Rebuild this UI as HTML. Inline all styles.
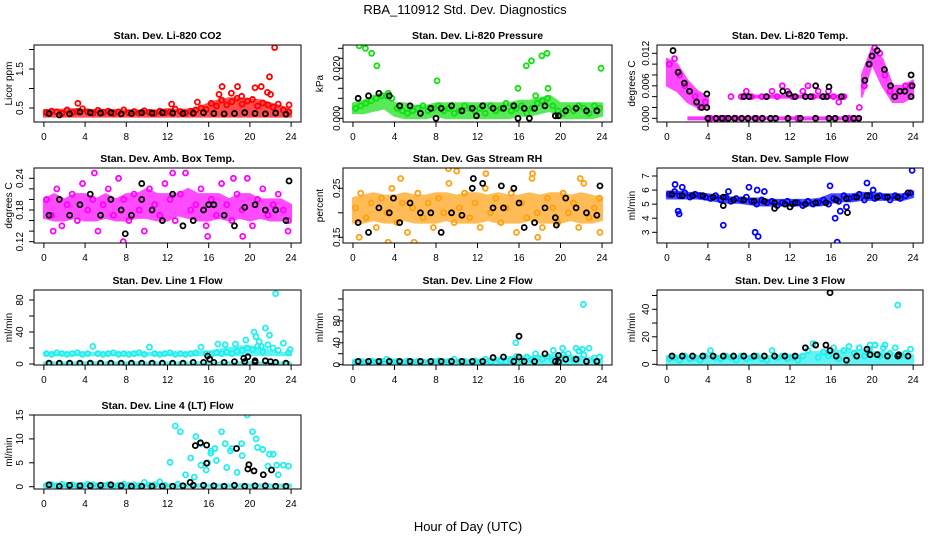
<!DOCTYPE html>
<html><head><meta charset="utf-8"><title>RBA_110912 Std. Dev. Diagnostics</title>
<style>
html,body{margin:0;padding:0;background:#fff;}
svg{display:block;font-family:"Liberation Sans",Arial,sans-serif;}
</style></head>
<body>
<svg id="chart" width="936" height="540" viewBox="0 0 936 540">
<text x="465" y="14" font-size="13" text-anchor="middle">RBA_110912  Std. Dev. Diagnostics</text>
<text x="468" y="531" font-size="13" text-anchor="middle">Hour of Day (UTC)</text>
</svg>
<script>
// ---- shared x categories ----
const halfHours = [0.25,0.75,1.25,1.75,2.25,2.75,3.25,3.75,4.25,4.75,5.25,5.75,6.25,6.75,7.25,7.75,8.25,8.75,9.25,9.75,10.25,10.75,11.25,11.75,12.25,12.75,13.25,13.75,14.25,14.75,15.25,15.75,16.25,16.75,17.25,17.75,18.25,18.75,19.25,19.75,20.25,20.75,21.25,21.75,22.25,22.75,23.25,23.75];
const hours = [0,1,2,3,4,5,6,7,8,9,10,11,12,13,14,15,16,17,18,19,20,21,22,23,24];
const blackHours = [0.5,1.5,2.5,3.5,4.5,5.5,6.5,7.5,8.5,9.5,10.5,11.5,12.5,13.5,14.5,15.5,16.5,17.5,18.5,19.5,20.5,21.5,22.5,23.5];
const xTicks = [0,4,8,12,16,20,24];

// ---- Li-820 CO2 ----
const co2Y = [0.38,0.42,0.40,0.36,0.45,0.38,0.41,0.48,0.40,0.37,0.44,0.39,0.42,0.36,0.40,0.45,0.38,0.41,0.37,0.43,0.39,0.36,0.42,0.38,0.40,0.47,0.41,0.37,0.42,0.45,0.50,0.46,0.62,0.55,0.70,0.58,0.66,0.75,0.60,0.68,0.72,0.55,0.63,0.58,0.52,0.60,0.45,0.40];
const co2Lo = [0.28,0.28,0.28,0.28,0.28,0.28,0.28,0.28,0.28,0.28,0.28,0.28,0.28,0.28,0.28,0.28,0.28,0.28,0.28,0.28,0.28,0.28,0.28,0.28,0.28];
const co2Hi = [0.45,0.45,0.46,0.47,0.46,0.45,0.45,0.45,0.44,0.44,0.44,0.44,0.47,0.45,0.46,0.50,0.62,0.70,0.75,0.75,0.72,0.70,0.62,0.55,0.45];
const co2OutX = [22.4,21.9,17.3,18.8,20.5,21.1,21.7,22.0,3.3,12.4,14.9,17.0,18.2,19.2,23.8];
const co2OutY = [2.05,1.30,1.05,1.05,1.02,1.05,0.90,0.85,0.62,0.60,0.65,0.85,0.88,0.80,0.58];
const co2Black = [0.36,0.32,0.35,0.40,0.38,0.37,0.38,0.35,0.36,0.38,0.37,0.38,0.37,0.36,0.37,0.38,0.36,0.35,0.36,0.38,0.36,0.35,0.37,0.34];

// ---- Li-820 Pressure ----
const presY = [0.004,0.005,0.006,0.007,0.008,0.009,0.009,0.008,0.004,0.003,0.002,0.003,0.004,0.005,0.003,0.004,0.005,0.003,0.004,0.002,0.003,0.005,0.004,0.003,0.004,0.002,0.005,0.003,0.004,0.006,0.003,0.004,0.005,0.002,0.004,0.006,0.007,0.008,0.005,0.003,0.002,0.004,0.003,0.005,0.004,0.002,0.005,0.004];
const presLo = [0.002,0.002,0.003,0.004,0.001,0,0,0,0.001,0,0,0,0,0,0,0,0.001,0.001,0.002,0.003,0,0,0,0,0.001];
const presHi = [0.006,0.007,0.009,0.010,0.006,0.006,0.005,0.005,0.006,0.006,0.006,0.006,0.006,0.006,0.006,0.006,0.007,0.007,0.008,0.009,0.006,0.006,0.006,0.006,0.006];
const presOutX = [0.6,1.2,1.8,2.3,3.4,8.1,15.9,16.7,17.2,17.6,18.2,18.7,18.8,23.9];
const presOutY = [0.029,0.028,0.026,0.021,0.010,0.015,0.012,0.021,0.023,0.009,0.025,0.026,0.012,0.020];
const presBlack = [0.008,0.009,0.010,0.009,0.005,0.005,0.002,0.004,0.004,0.005,0.003,0.004,0.005,0.004,0.004,0.005,0.004,0.004,0.005,0.001,0.003,0.004,0.003,0.003];
const presBlkX = [8.0,11.9,15.9,17.0,19.8];
const presBlkY = [0,0.001,0,0,0.001];

// ---- Li-820 Temp ----
const tempY = [0.010,0.011,0.008,0.006,0.005,0.004,0.002,0.003,0,0,0,0,0.004,0,0.004,0.005,0.004,0,0.004,0.004,0.005,0.004,0.006,0.005,0.004,0,0.005,0.006,0.004,0.005,0.004,0.005,0.004,0.003,0.004,0,0,0.002,0.006,0.010,0.013,0.012,0.008,0.005,0.004,0.005,0.006,0.006];
const tempLo = [0.006,0.005,0.003,0.002,0.002,null,null,null,null,null,null,null,null,null,null,null,null,null,null,0.004,0.010,0.006,0.003,0.003,0.004];
const tempHi = [0.011,0.010,0.007,0.005,0.004,null,null,null,null,null,null,null,null,null,null,null,null,null,null,0.008,0.013,0.011,0.006,0.006,0.007];
const tempLevelY = [0,0.004];
const tempLevelFrom = [2.0,7.3];
const tempLevelTo = [19.0,17.5];
const tempBlkX = [0.6,1.1,1.7,2.2,2.9,3.4,3.9,3.9,4,4.8,5.4,6,6.6,7.3,7.9,8.6,9.3,10.1,10.6,11.8,13,14.5,15.8,16.4,17.4,18.2,18.7,7.5,8,9.7,11.3,11.9,12.5,13.5,14,14.5,15.2,15.6,15.8,17,19.3,19.7,20,20.5,21.2,21.8,22.2,22.7,23.2,23.8,23.9,23.8];
const tempBlkY = [0.0125,0.0085,0.0065,0.005,0.003,0.002,0.002,0.0045,0,0,0,0,0,0,0,0,0,0,0,0,0,0,0,0,0,0,0,0.004,0.004,0.004,0.005,0.0045,0.004,0.004,0.004,0.006,0.004,0.004,0.0058,0.004,0.007,0.010,0.0115,0.0125,0.009,0.006,0.004,0.005,0.005,0.008,0.006,0.004];

// ---- Amb. Box Temp ----
const ambY = [0.20,0.17,0.22,0.15,0.19,0.21,0.16,0.23,0.18,0.20,0.14,0.19,0.22,0.17,0.24,0.20,0.16,0.21,0.18,0.14,0.22,0.19,0.17,0.23,0.20,0.16,0.21,0.25,0.18,0.19,0.22,0.15,0.20,0.17,0.23,0.19,0.16,0.21,0.18,0.24,0.15,0.20,0.22,0.17,0.19,0.21,0.18,0.16];
const ambLo = [0.165,0.16,0.16,0.165,0.16,0.16,0.165,0.16,0.16,0.165,0.165,0.16,0.16,0.17,0.165,0.16,0.16,0.165,0.16,0.165,0.16,0.165,0.16,0.16,0.165];
const ambHi = [0.20,0.21,0.20,0.21,0.21,0.20,0.21,0.20,0.21,0.21,0.22,0.21,0.21,0.21,0.22,0.21,0.21,0.21,0.20,0.21,0.21,0.20,0.20,0.20,0.19];
const ambOutX = [0.9,7.7,15.9,19.3,4.9,23.7,12.5,18.4];
const ambOutY = [0.14,0.12,0.13,0.13,0.25,0.14,0.25,0.24];
const ambBlack = [0.17,0.20,0.17,0.19,0.21,0.17,0.20,0.18,0.17,0.20,0.18,0.16,0.21,0.15,0.16,0.18,0.19,0.17,0.15,0.185,0.19,0.18,0.18,0.16];
const ambBlkX = [7.9,9.5,16.0,23.8];
const ambBlkY = [0.135,0.23,0.19,0.235];

// ---- Gas Stream RH ----
const rhY = [0.21,0.24,0.19,0.22,0.17,0.23,0.20,0.25,0.18,0.22,0.16,0.21,0.24,0.19,0.22,0.17,0.23,0.20,0.26,0.18,0.21,0.24,0.19,0.22,0.17,0.25,0.20,0.23,0.18,0.21,0.24,0.16,0.22,0.19,0.27,0.20,0.17,0.23,0.21,0.18,0.24,0.20,0.22,0.17,0.26,0.19,0.21,0.23];
const rhLo = [0.18,0.18,0.185,0.18,0.18,0.185,0.18,0.18,0.18,0.185,0.18,0.18,0.18,0.185,0.18,0.18,0.18,0.185,0.18,0.18,0.18,0.185,0.18,0.18,0.185];
const rhHi = [0.23,0.235,0.24,0.235,0.235,0.24,0.235,0.235,0.24,0.24,0.235,0.24,0.24,0.235,0.24,0.235,0.235,0.24,0.235,0.24,0.24,0.235,0.24,0.235,0.23];
const rhOutX = [0.6,3.4,4.6,5.9,9.2,10.0,12.8,17.3,17.8,21.9,23.8];
const rhOutY = [0.15,0.14,0.27,0.14,0.29,0.285,0.28,0.28,0.15,0.27,0.16];
const rhBlack = [0.18,0.16,0.21,0.20,0.18,0.22,0.20,0.20,0.16,0.20,0.195,0.25,0.26,0.21,0.21,0.25,0.17,0.18,0.21,0.19,0.23,0.21,0.20,0.195];
const rhBlkX = [3.9,11.6,14.3,16.0,19.6,23.8];
const rhBlkY = [0.23,0.27,0.255,0.22,0.175,0.255];

// ---- Sample Flow ----
const flowY = [5.7,5.9,5.6,5.8,5.5,5.7,5.6,5.5,5.4,5.6,5.3,5.5,5.2,5.4,5.3,5.5,5.2,5.0,5.3,5.1,5.2,4.9,5.1,5.2,5.0,5.1,4.9,5.2,5.0,5.1,5.3,5.0,5.4,5.2,5.6,5.4,5.5,5.7,5.3,5.6,5.4,5.6,5.5,5.3,5.6,5.4,5.6,5.8];
const flowLo = [5.4,5.4,5.4,5.4,5.3,5.2,5.1,5.1,5.0,4.9,4.9,4.9,4.9,4.9,4.9,4.9,5.1,5.2,5.2,5.3,5.3,5.3,5.3,5.3,5.5];
const flowHi = [5.9,5.9,5.8,5.8,5.7,5.6,5.5,5.4,5.4,5.4,5.3,5.3,5.3,5.3,5.3,5.4,5.7,5.7,5.7,5.8,5.8,5.7,5.7,5.7,5.9];
const flowOutX = [1.1,1.2,0.8,1.5,5.5,6.0,8.0,8.6,8.9,8.8,9.5,15.9,16.4,16.6,16.9,19.5,20.1,23.9,17.5];
const flowOutY = [4.5,4.3,6.4,6.2,3.5,5.9,6.2,3.0,2.7,6.0,5.9,6.3,4.0,2.3,4.5,6.5,6.0,7.4,4.8];
const flowBlack = [5.7,5.6,5.6,5.6,5.5,5.5,5.3,5.3,5.2,5.2,5.1,5.0,5.1,5.0,5.1,5.1,5.3,5.4,5.5,5.6,5.5,5.5,5.5,5.8];
const flowBlkX = [5.5,10.5,12.0,17.6];
const flowBlkY = [4.9,4.7,4.8,4.4];

// ---- Line 1 Flow ----
const l1Y = [13,12,14,13,12,13,14,12,13,22,13,12,13,14,12,13,12,13,14,12,21,13,12,13,14,12,13,12,13,14,21,13,12,14,13,15,13,16,17,20,18,22,15,24,20,17,26,14];
const l1Lo = [11,11,11,11,11,11,11,11,11,11,11,11,11,11,11,11,11,11,11,11,11,11,11,11,11];
const l1Hi = [14,14,14,14,14,14,14,14,14,14,14,14,14,14,14,15,16,18,20,22,22,20,17,14,14];
const l1Lo2 = [0,0,0,0,0,0,0,0,0,0,0,0,0,0,0,0,0,0,0,0,0,0,0,0,0];
const l1Hi2 = [2,2,2,2,2,2,2,2,2,2,2,2,2,2,2,2,2,2,2,2,2,2,2,2,2];
const l1OutX = [20.4,20.6,20.9,21.5,21.1,21.9,22.5,23.9,19.6,18.6,17.6,16.9];
const l1OutY = [40,34,28,45,22,36,88,18,30,25,24,25];
const l1Black = [1,1,1,1,1,1,1,1,1,1,1,1,1,1,2,2,2,2,3,3,2,4,2,1];
const l1BlkX = [15.9,16.1,19.4,19.8,20.5,22.0];
const l1BlkY = [10,6,7,9,4,3];

// ---- Line 2 Flow ----
const l2Y = [5,6,4,7,5,6,10,5,6,4,7,5,6,5,4,6,7,5,6,10,5,6,4,7,5,10,6,4,7,5,8,15,6,14,9,12,10,15,8,12,18,20,10,25,18,30,12,14];
const l2Lo = [0,0,0,0,0,0,0,0,0,0,0,0,0,0,0,0,0,0,0,0,0,0,0,0,0];
const l2Hi = [8,8,8,8,8,8,8,8,8,8,8,8,8,10,12,14,15,15,16,18,18,16,14,12,10];
const l2OutX = [22.2,15.7,20.2,21.5,21.8,22.1,23.8,19.3,17.6];
const l2OutY = [110,40,30,30,25,28,14,26,20];
const l2Black = [6,6,6,6,6,6,6,6,6,6,6,6,6,13,14,6,6,6,20,6,10,10,6,6];
const l2BlkX = [16.0,16.0,19.8,19.8];
const l2BlkY = [52,14,17,5];

// ---- Line 3 Flow ----
const l3Y = [4,5,3,6,4,5,3,6,10,5,4,6,5,3,6,4,5,6,4,3,10,5,6,4,5,3,6,10,15,5,9,6,12,4,10,13,8,12,6,11,14,6,14,8,12,6,8,11];
const l3Lo = [0,0,0,0,0,0,0,0,0,0,0,0,0,0,0,0,0,0,0,0,0,0,0,0,0];
const l3Hi = [6,6,6,6,6,6,6,6,6,6,6,6,7,7,9,9,10,10,10,10,9,9,8,8,7];
const l3OutX = [22.5,19.8,20.3,21.1];
const l3OutY = [43,14,14,12];
const l3Black = [6,6,6,6,6,6,6,6,6,6,6,6,6,12,14,14,6,3,6,11,7,6,6,6];
const l3BlkX = [15.9,15.9,19.8,22.6];
const l3BlkY = [52,10,7,7];

// ---- Line 4 (LT) Flow ----
const l4Y = [0.3,0.4,0.2,0.5,0.3,0.4,0.2,0.3,0.5,0.4,0.2,0.3,0.4,0.2,0.3,0.5,0.3,0.4,0.2,0.9,0.3,0.4,1.0,0.3,5.1,12.7,11.5,2.5,6,10.5,4.5,3.5,7.5,5.5,11.5,4,8,3,6.5,15,11.5,8.2,7.8,4.3,6.8,2.5,4.5,4.3];
const l4Lo = [0,0,0,0,0,0,0,0,0,0,0,0,0,0,0,0,0,0,0,0,0,0,0,0,0];
const l4Hi = [0.5,0.5,0.5,0.5,0.5,0.5,0.5,0.5,0.5,0.5,0.5,0.5,0.5,0.5,0.5,0.5,0.5,0.5,0.5,0.5,0.5,0.5,0.5,0.5,0.5];
const l4OutX = [15.2,15.9,16.2,16.6,17.6,18.1,20.6,19.2,21.9,22.6,13.0,14.6];
const l4OutY = [9,5,7,8,9,7.5,10,9,6.8,4.5,0.5,2];
const l4Black = [0.4,0.1,0.3,0.2,0.2,0.3,0.4,0.2,0.1,0.1,0.1,0.1,0.1,0.2,0.3,0.3,0.2,0.1,0.3,0.1,0.2,0.2,0.1,0.1];
const l4BlkX = [14.7,15.2,15.8,15.8,14.2,18.7,19.9,19.8,20.4,21.3,22.1];
const l4BlkY = [8.6,9.2,8.7,4.9,0.9,8,4.6,3.7,3.3,2.5,3.5];

// ---- y tick values & labels ----
const co2Ticks=[0.5,1,1.5,2], co2Labels=["0.5","","1.5",""];
const presTicks=[0,0.004,0.008,0.012,0.016,0.020,0.024,0.028], presLabels=["0.000","","","","","0.020","",""];
const tempTicks=[0,0.002,0.004,0.006,0.008,0.010,0.012], tempLabels=["0.000","","","0.006","","","0.012"];
const ambTicks=[0.12,0.14,0.16,0.18,0.20,0.22,0.24], ambLabels=["0.12","","","0.18","","","0.24"];
const rhTicks=[0.15,0.20,0.25], rhLabels=["0.15","","0.25"];
const flowTicks=[3,4,5,6,7], flowLabels=["3","4","5","6","7"];
const l1Ticks=[0,20,40,60,80], l1Labels=["0","","40","","80"];
const l2Ticks=[0,20,40,60,80,100,120], l2Labels=["0","","40","","80","",""];
const l3Ticks=[0,10,20,30,40,50], l3Labels=["0","","20","","40",""];
const l4Ticks=[0,5,10,15], l4Labels=["0","5","10","15"];

const NS="http://www.w3.org/2000/svg";
const svg=document.getElementById('chart');
function el(tag,parent,attrs){const e=document.createElementNS(NS,tag);for(const k in attrs)e.setAttribute(k,attrs[k]);parent.appendChild(e);return e;}

const cols=[{x0:34,x1:301,lab:19,tit:8},{x0:343,x1:612,lab:336,tit:319},{x0:657,x1:923,lab:645,tit:631}];
const rows=[{y0:45,y1:122},{y0:168,y1:243},{y0:290,y1:365},{y0:415,y1:489}];

const panels=[
 {id:'co2',title:'Stan. Dev. Li-820 CO2',ylab:'Licor ppm',r:0,c:0,ymin:0.141,ymax:2.115,col:'#ff0000',y:co2Y,bands:[[co2Lo,co2Hi]],ox:co2OutX,oy:co2OutY,bk:co2Black,bx:[],by:[],ticks:co2Ticks,labels:co2Labels},
 {id:'pressure',title:'Stan. Dev. Li-820 Pressure',ylab:'kPa',r:0,c:1,ymin:-0.00148,ymax:0.02932,col:'#11e011',y:presY,bands:[[presLo,presHi]],ox:presOutX,oy:presOutY,bk:presBlack,bx:presBlkX,by:presBlkY,ticks:presTicks,labels:presLabels},
 {id:'temp',title:'Stan. Dev. Li-820 Temp.',ylab:'degrees C',r:0,c:2,ymin:-0.00068,ymax:0.01353,col:'#ff00ff',y:tempY,bands:[[tempLo,tempHi]],ox:[],oy:[],bk:[],bx:tempBlkX,by:tempBlkY,ticks:tempTicks,labels:tempLabels,levels:true},
 {id:'amb-box',title:'Stan. Dev. Amb. Box Temp.',ylab:'degrees C',r:1,c:0,ymin:0.1175,ymax:0.2595,col:'#ff00ff',y:ambY,bands:[[ambLo,ambHi]],ox:ambOutX,oy:ambOutY,bk:ambBlack,bx:ambBlkX,by:ambBlkY,ticks:ambTicks,labels:ambLabels},
 {id:'rh',title:'Stan. Dev. Gas Stream RH',ylab:'percent',r:1,c:1,ymin:0.1384,ymax:0.2914,col:'#ffa010',y:rhY,bands:[[rhLo,rhHi]],ox:rhOutX,oy:rhOutY,bk:rhBlack,bx:rhBlkX,by:rhBlkY,ticks:rhTicks,labels:rhLabels},
 {id:'sample-flow',title:'Stan. Dev. Sample Flow',ylab:'ml/min',r:1,c:2,ymin:2.24,ymax:7.568,col:'#0000ff',y:flowY,bands:[[flowLo,flowHi]],ox:flowOutX,oy:flowOutY,bk:flowBlack,bx:flowBlkX,by:flowBlkY,ticks:flowTicks,labels:flowLabels},
 {id:'line1',title:'Stan. Dev. Line 1 Flow',ylab:'ml/min',r:2,c:0,ymin:-1.25,ymax:92.5,col:'#22eeee',y:l1Y,bands:[[l1Lo,l1Hi],[l1Lo2,l1Hi2]],ox:l1OutX,oy:l1OutY,bk:l1Black,bx:l1BlkX,by:l1BlkY,ticks:l1Ticks,labels:l1Labels},
 {id:'line2',title:'Stan. Dev. Line 2 Flow',ylab:'ml/min',r:2,c:1,ymin:-0.55,ymax:136.3,col:'#22eeee',y:l2Y,bands:[[l2Lo,l2Hi]],ox:l2OutX,oy:l2OutY,bk:l2Black,bx:l2BlkX,by:l2BlkY,ticks:l2Ticks,labels:l2Labels},
 {id:'line3',title:'Stan. Dev. Line 3 Flow',ylab:'ml/min',r:2,c:2,ymin:-0.5,ymax:54.0,col:'#22eeee',y:l3Y,bands:[[l3Lo,l3Hi]],ox:l3OutX,oy:l3OutY,bk:l3Black,bx:l3BlkX,by:l3BlkY,ticks:l3Ticks,labels:l3Labels},
 {id:'line4',title:'Stan. Dev. Line 4 (LT) Flow',ylab:'ml/min',r:3,c:0,ymin:-0.48,ymax:15.0,col:'#22eeee',y:l4Y,bands:[[l4Lo,l4Hi]],ox:l4OutX,oy:l4OutY,bk:l4Black,bx:l4BlkX,by:l4BlkY,ticks:l4Ticks,labels:l4Labels}
];

panels.forEach(p=>{
  const C=cols[p.c], R=rows[p.r];
  const xs=h=>C.x0+(h+0.96)*(C.x1-C.x0)/25.92;
  const ys=v=>R.y1-(v-p.ymin)*(R.y1-R.y0)/(p.ymax-p.ymin);
  const g=el('g',svg,{});
  
  
  const cx=(C.x0+C.x1)/2;
  const t=el('text',g,{x:cx,y:R.y0-6,'font-size':'10.5','font-weight':'bold','text-anchor':'middle'});
  t.textContent=p.title;
  
  
  const clipId='clip-'+p.id;
  const cp=el('clipPath',g,{id:clipId});
  el('rect',cp,{x:C.x0,y:R.y0,width:C.x1-C.x0,height:R.y1-R.y0});
  const plot=el('g',g,{'clip-path':'url(#'+clipId+')'});
  
  
  p.bands.forEach((b,bi)=>{
    let seg=[];
    const flush=()=>{ if(seg.length>1){
        const top=seg.map(i=>xs(hours[i])+','+ys(b[1][i]));
        const bot=seg.slice().reverse().map(i=>xs(hours[i])+','+ys(b[0][i]));
        const poly=el('polygon',plot,{points:top.concat(bot).join(' '),fill:p.col,stroke:p.col,'stroke-width':'2','stroke-linejoin':'round','opacity':'0.7'});
        
        
      } seg=[]; };
    hours.forEach((h,i)=>{ if(b[0][i]===null||b[1][i]===null) flush(); else seg.push(i); });
    flush();
  });
  if(p.levels){
    tempLevelY.forEach((v,i)=>{
      const ln=el('line',plot,{x1:xs(tempLevelFrom[i]),x2:xs(tempLevelTo[i]),y1:ys(v),y2:ys(v),stroke:p.col,'stroke-width':'4','opacity':'0.8'});
      
      
    });
  }
  const dot=(h,v,color,name)=>{
    const c=el('circle',plot,{cx:xs(h),cy:ys(v),r:2.5,fill:'none',stroke:color,'stroke-width':'1.8'});
    
    
  };
  p.y.forEach((v,i)=>dot(halfHours[i],v,p.col,p.id+'-point'));
  p.ox.forEach((h,i)=>dot(h,p.oy[i],p.col,p.id+'-outlier'));
  p.bk.forEach((v,i)=>dot(blackHours[i],v,'#000',p.id+'-hourly-point'));
  p.bx.forEach((h,i)=>dot(h,p.by[i],'#000',p.id+'-hourly-point'));
  const box=el('rect',g,{x:C.x0,y:R.y0,width:C.x1-C.x0,height:R.y1-R.y0,fill:'none',stroke:'#000','stroke-width':'1'});
  
  
  const xa=el('g',g,{});
  
  
  el('line',xa,{x1:xs(0),x2:xs(24),y1:R.y1,y2:R.y1,stroke:'#000'});
  xTicks.forEach(h=>{
    el('line',xa,{x1:xs(h),x2:xs(h),y1:R.y1,y2:R.y1+5,stroke:'#000'});
    const tx=el('text',xa,{x:xs(h),y:R.y1+18,'font-size':'10','text-anchor':'middle'});
    tx.textContent=String(h);
    
    
  });
  const ya=el('g',g,{});
  
  
  el('line',ya,{x1:C.x0,x2:C.x0,y1:ys(p.ticks[0]),y2:ys(p.ticks[p.ticks.length-1]),stroke:'#000'});
  p.ticks.forEach((v,i)=>{
    el('line',ya,{x1:C.x0-5,x2:C.x0,y1:ys(v),y2:ys(v),stroke:'#000'});
    if(p.labels[i]){
      const lx=C.lab+4, ly=ys(v);
      const tx=el('text',ya,{x:lx,y:ly,'font-size':'10','text-anchor':'middle',transform:'rotate(-90 '+lx+' '+ly+')'});
      tx.textContent=p.labels[i];
      
      
    }
  });
  const my=(R.y0+R.y1)/2, tx0=C.tit+4;
  const yt=el('text',ya,{x:tx0,y:my,'font-size':'10','text-anchor':'middle',transform:'rotate(-90 '+tx0+' '+my+')'});
  yt.textContent=p.ylab;
  
  
});
</script>
</body></html>
